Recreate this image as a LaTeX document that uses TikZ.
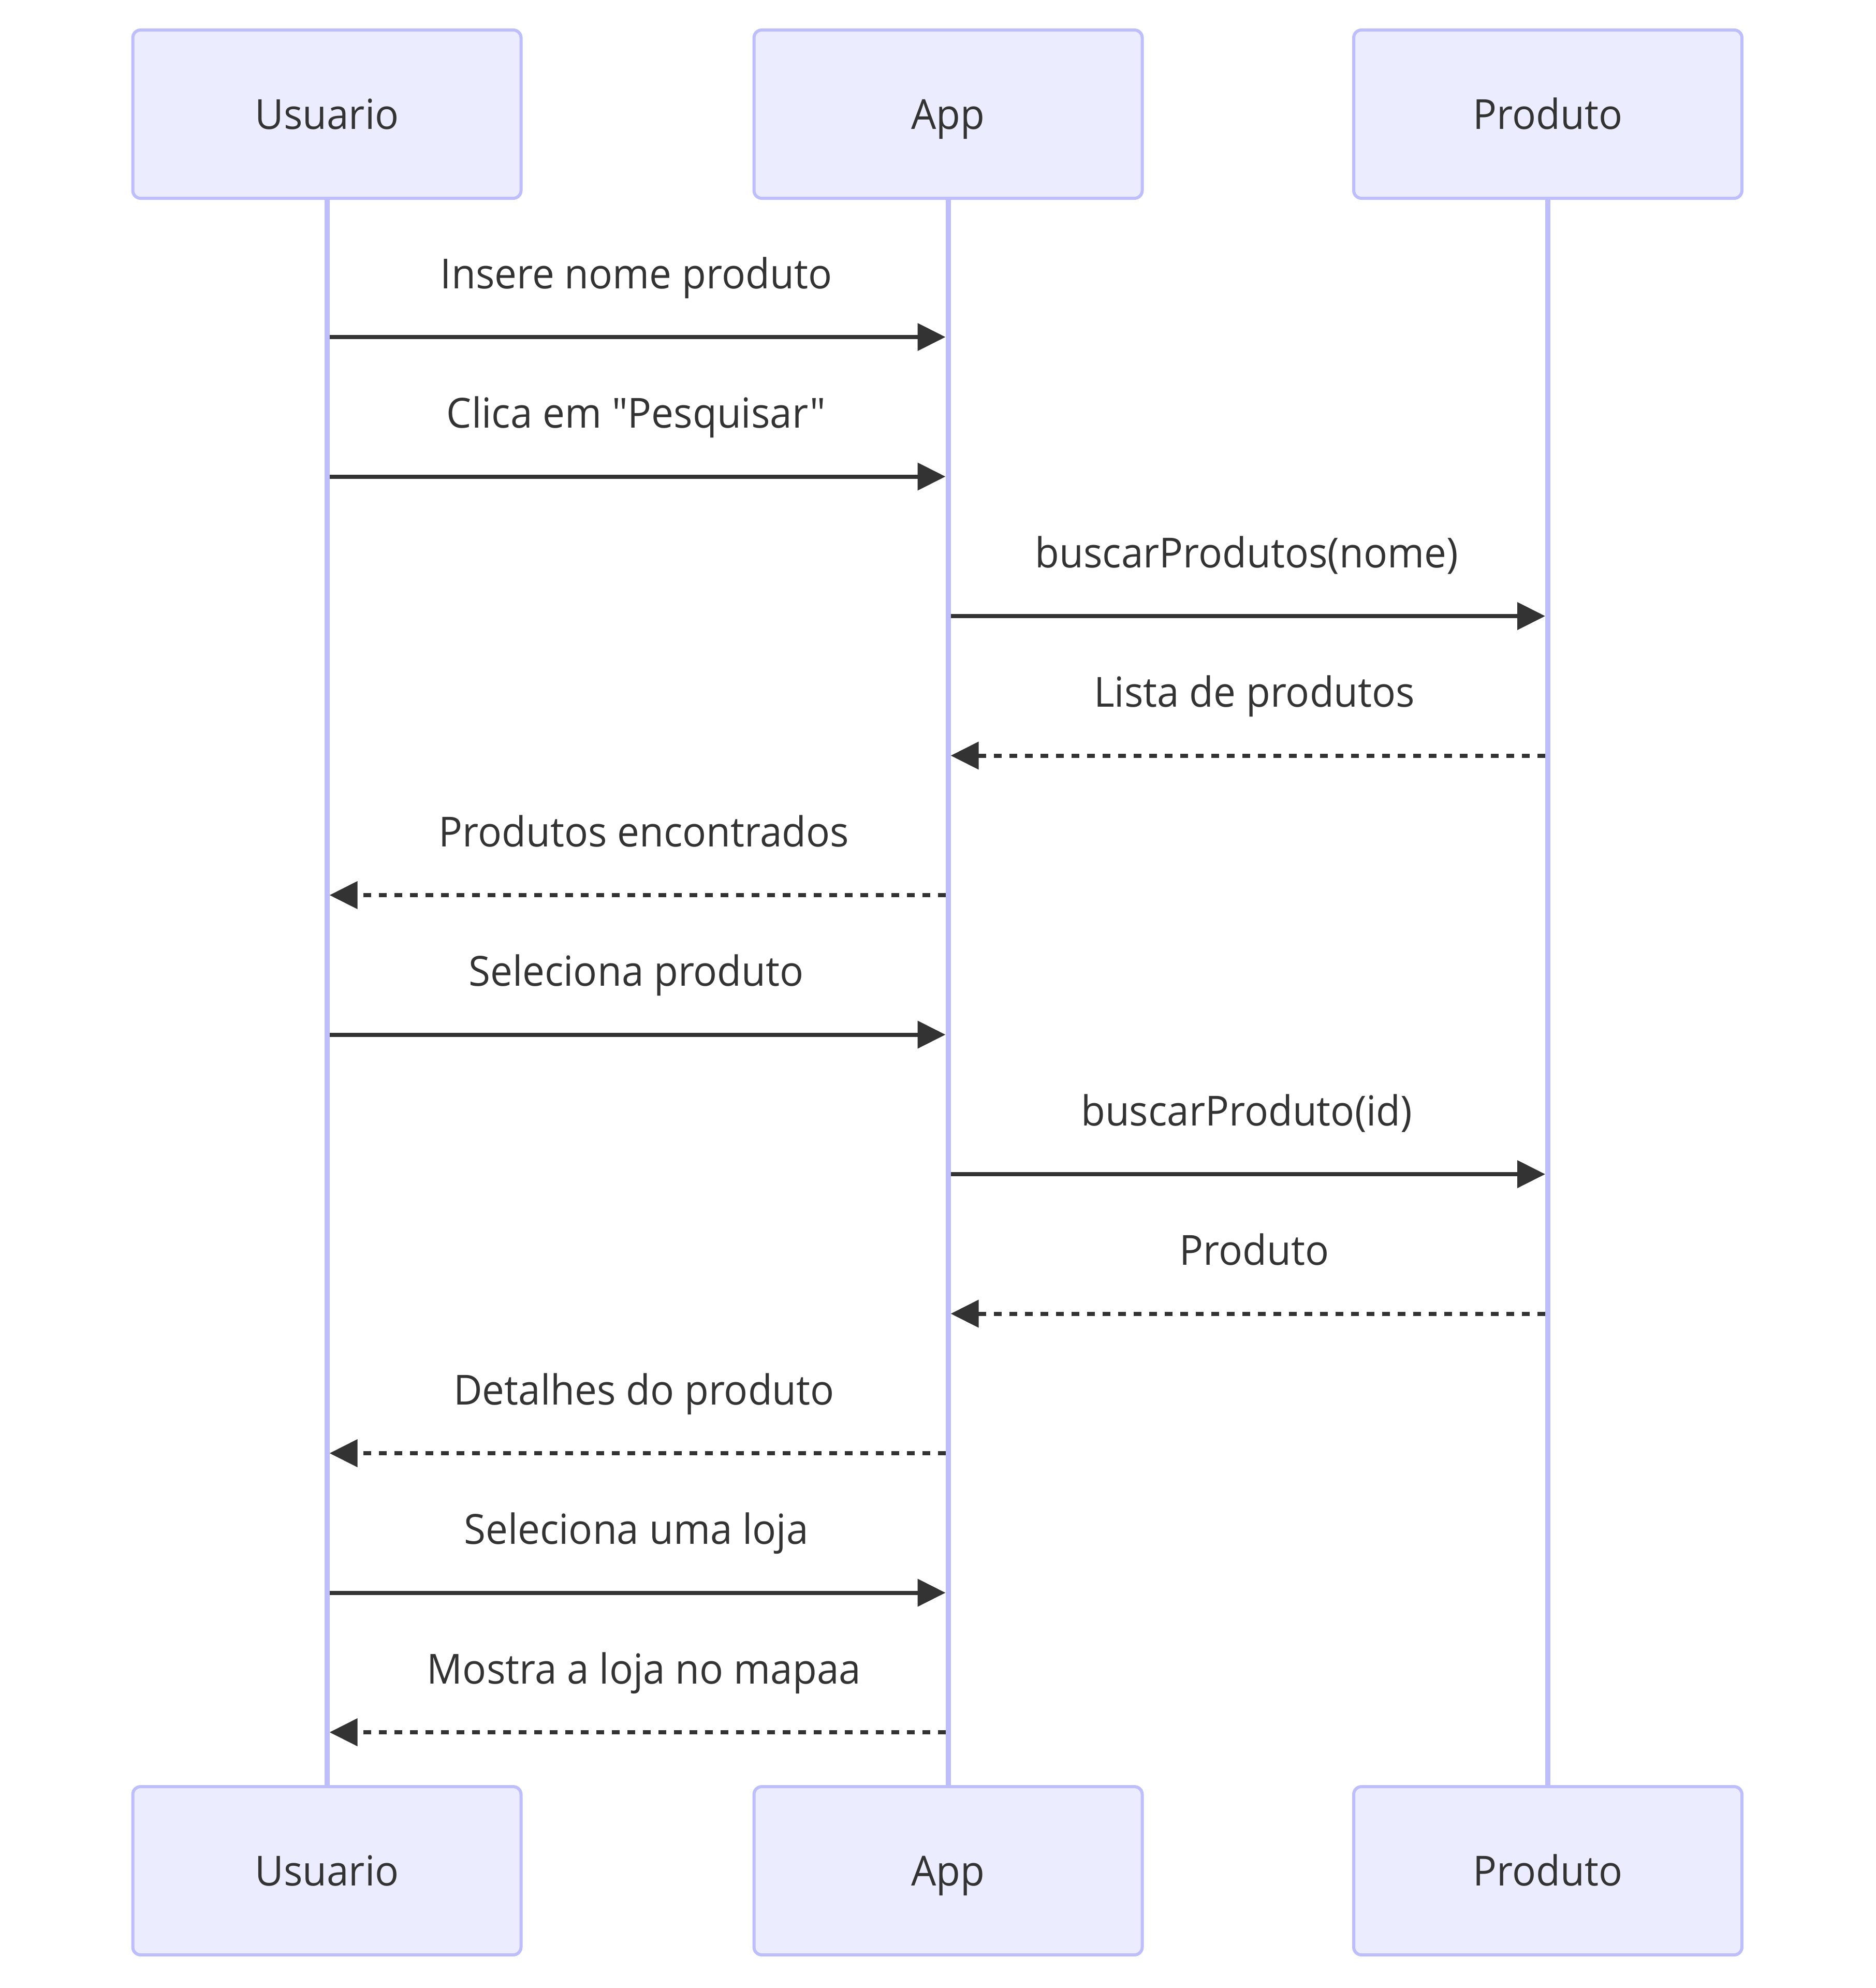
\documentclass[tikz,border=0pt]{standalone}
\usepackage{fontspec}
\newfontfamily\seqfont{Open Sans}[FakeStretch=0.955]
\usetikzlibrary{arrows.meta}
\definecolor{actorfill}{RGB}{236, 236, 255}
\definecolor{actorline}{RGB}{190, 190, 250}
\definecolor{msgink}{RGB}{51, 51, 51}

\tikzset{
  actor/.style={rectangle, rounded corners=3pt, draw=actorline, fill=actorfill, line width=1.2pt,
                minimum width=150pt, minimum height=65pt, text=msgink, font=\seqfont\fontsize{16}{19}\selectfont,
                text height=11.6pt, text depth=0pt, yshift=-0.5pt},
  lifeline/.style={draw=actorline, line width=2pt},
  sync/.style={draw=msgink, line width=1.6pt, shorten <=1pt, shorten >=1pt,
               -{Triangle[length=10.8pt, width=10.4pt]}},
  reply/.style={sync, dash pattern=on 3pt off 3pt},
  msglabel/.style={midway, anchor=base, yshift=18.8pt, xshift=-0.5pt, text=msgink, font=\seqfont\fontsize{16}{19}\selectfont},
  replylabel/.style={msglabel, xshift=3pt}
}

\begin{document}
\begin{tikzpicture}[x=1pt, y=-1pt]
            \useasboundingbox (0,0) rectangle (724.8,768);
            % actors, top and bottom
            \node[actor] (usuarioTop) at (126.3, 43.6) {Usuario};
            \node[actor] (appTop)     at (366.3, 43.6) {App};
            \node[actor] (produtoTop) at (598.0, 43.6) {Produto};
            \node[actor] (usuarioBot) at (126.3,722.2) {Usuario};
            \node[actor] (appBot)     at (366.3,722.2) {App};
            \node[actor] (produtoBot) at (598.0,722.2) {Produto};
            % lifelines
            \draw[lifeline] (usuarioTop.south) -- (usuarioBot.north);
            \draw[lifeline] (appTop.south)     -- (appBot.north);
            \draw[lifeline] (produtoTop.south) -- (produtoBot.north);
            % message rows
            \foreach \i in {1,...,11}
                \coordinate (m\i) at (0, {76.3+53.9*\i});
            % messages
            \draw[sync]  (usuarioTop |- m1)  -- node[msglabel]   {Insere nome produto}     (appTop |- m1);
            \draw[sync]  (usuarioTop |- m2)  -- node[msglabel]   {Clica em "Pesquisar"}    (appTop |- m2);
            \draw[sync]  (appTop |- m3)      -- node[msglabel]   {buscarProdutos(nome)}    (produtoTop |- m3);
            \draw[reply] (produtoTop |- m4)  -- node[replylabel] {Lista de produtos}       (appTop |- m4);
            \draw[reply] (appTop |- m5)      -- node[replylabel] {Produtos encontrados}    (usuarioTop |- m5);
            \draw[sync]  (usuarioTop |- m6)  -- node[msglabel]   {Seleciona produto}       (appTop |- m6);
            \draw[sync]  (appTop |- m7)      -- node[msglabel]   {buscarProduto(id)}       (produtoTop |- m7);
            \draw[reply] (produtoTop |- m8)  -- node[replylabel] {Produto}                 (appTop |- m8);
            \draw[reply] (appTop |- m9)      -- node[replylabel] {Detalhes do produto}     (usuarioTop |- m9);
            \draw[sync]  (usuarioTop |- m10) -- node[msglabel]   {Seleciona uma loja}      (appTop |- m10);
            \draw[reply] (appTop |- m11)     -- node[replylabel] {Mostra a loja no mapaa}  (usuarioTop |- m11);
\end{tikzpicture}
\end{document}
